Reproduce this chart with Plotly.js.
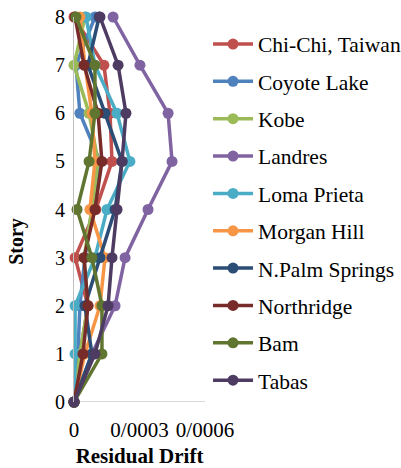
<!DOCTYPE html>
<html>
<head>
<meta charset="utf-8">
<script src="https://cdn.plot.ly/plotly-3.0.1.min.js"></script>
<style>html,body{margin:0;padding:0;background:#fff;}#chart{width:401px;height:468px;}</style>
</head>
<body>
<div id="chart"></div>
<script>
const stories = [0, 1, 2, 3, 4, 5, 6, 7, 8];
const seriesNames = ["Chi-Chi, Taiwan", "Coyote Lake", "Kobe", "Landres", "Loma Prieta", "Morgan Hill", "N.Palm Springs", "Northridge", "Bam", "Tabas"];
const chiChi      = [0, 0.000027, 0.000064, 0.000005, 0.000100, 0.000174, 0.000165, 0.000137, 0];
const coyoteLake  = [0, 0.000018, 0.000027, 0.000050, 0.000082, 0.000119, 0.000027, 0.000009, 0.000096];
const kobe        = [0, 0.000027, 0.000064, 0.000046, 0.000082, 0.000110, 0.000069, 0, 0.000050];
const landres     = [0, 0.000082, 0.000188, 0.000234, 0.000339, 0.000449, 0.000431, 0.000302, 0.000179];
const lomaPrieta  = [0, 0.000005, 0.000005, 0.000096, 0.000151, 0.000256, 0.000197, 0.000096, 0.000055];
const morganHill  = [0, 0.000050, 0.000119, 0.000142, 0.000073, 0.000096, 0.000082, 0.000050, 0.000027];
const nPalmSprings= [0, 0.000082, 0.000050, 0.000119, 0.000188, 0.000220, 0.000142, 0.000064, 0.000115];
const northridge  = [0, 0.000041, 0.000064, 0.000046, 0.000096, 0.000128, 0.000110, 0.000046, 0.000005];
const bam         = [0, 0.000128, 0.000128, 0.000082, 0.000014, 0.000069, 0.000096, 0.000096, 0.000009];
const tabas       = [0, 0.000096, 0.000156, 0.000174, 0.000197, 0.000220, 0.000238, 0.000202, 0.000119];
const xTickVals = [0, 0.0003, 0.0006];
const xTickText = ["0", "0/0003", "0/0006"];
const yTickVals = [0, 1, 2, 3, 4, 5, 6, 7, 8];

const allSeries = [chiChi, coyoteLake, kobe, landres, lomaPrieta, morganHill, nPalmSprings, northridge, bam, tabas];
const colors = ["#C0504D", "#4F81BD", "#9BBB59", "#8064A2", "#4BACC6", "#F79646", "#2C4D75", "#772C2A", "#5F7530", "#4D3B62"];

const traces = allSeries.map((vals, i) => ({
  type: "scatter",
  mode: "lines+markers",
  name: seriesNames[i],
  legendgroup: "g" + i,
  x: vals,
  y: stories,
  line: {color: colors[i], width: 3.5},
  marker: {color: colors[i], size: 11},
  cliponaxis: false
}));

const FONT = "Liberation Serif";

const layout = {
  width: 401,
  height: 468,
  margin: {l: 74, r: 196, t: 17, b: 66, autoexpand: false},
  paper_bgcolor: "#fff",
  plot_bgcolor: "#fff",
  font: {family: FONT, color: "#000", size: 20},
  showlegend: true,
  legend: {
    x: 1.023, y: 0.983, xanchor: "left", yanchor: "top",
    font: {family: FONT, size: 21.5, color: "#000"},
    tracegroupgap: 6.4,
    itemwidth: 40,
    bgcolor: "rgba(0,0,0,0)"
  },
  xaxis: {
    range: [0, 0.0006],
    tickvals: xTickVals,
    ticktext: xTickText,
    tickangle: 0,
    automargin: false,
    showgrid: false,
    zeroline: false,
    showline: false,
    ticks: "",
    ticklabelstandoff: 13,
    tickfont: {family: FONT, size: 21},
    title: {text: "<b>Residual Drift</b>", font: {family: FONT, size: 21}, standoff: 9},
    fixedrange: true
  },
  yaxis: {
    range: [0, 8],
    tickvals: yTickVals,
    automargin: false,
    showgrid: false,
    zeroline: false,
    showline: true,
    linecolor: "#BFBFBF",
    linewidth: 1,
    ticks: "",
    ticklen: 0,
    ticklabelstandoff: 4,
    tickfont: {family: FONT, size: 20},
    fixedrange: true
  },
  annotations: [{
    text: "<b>Story</b>", xref: "paper", yref: "paper",
    x: -0.435, y: 0.416, xanchor: "center", yanchor: "middle",
    textangle: -90, showarrow: false,
    font: {family: FONT, size: 20, color: "#000"}
  }],
  shapes: [{
    type: "line", xref: "paper", yref: "y", x0: 0, x1: 1, y0: 0, y1: 0,
    line: {color: "#D9D9D9", width: 2}, layer: "below"
  }]
};

Plotly.newPlot("chart", traces, layout, {displayModeBar: false, staticPlot: true});
</script>
</body>
</html>
